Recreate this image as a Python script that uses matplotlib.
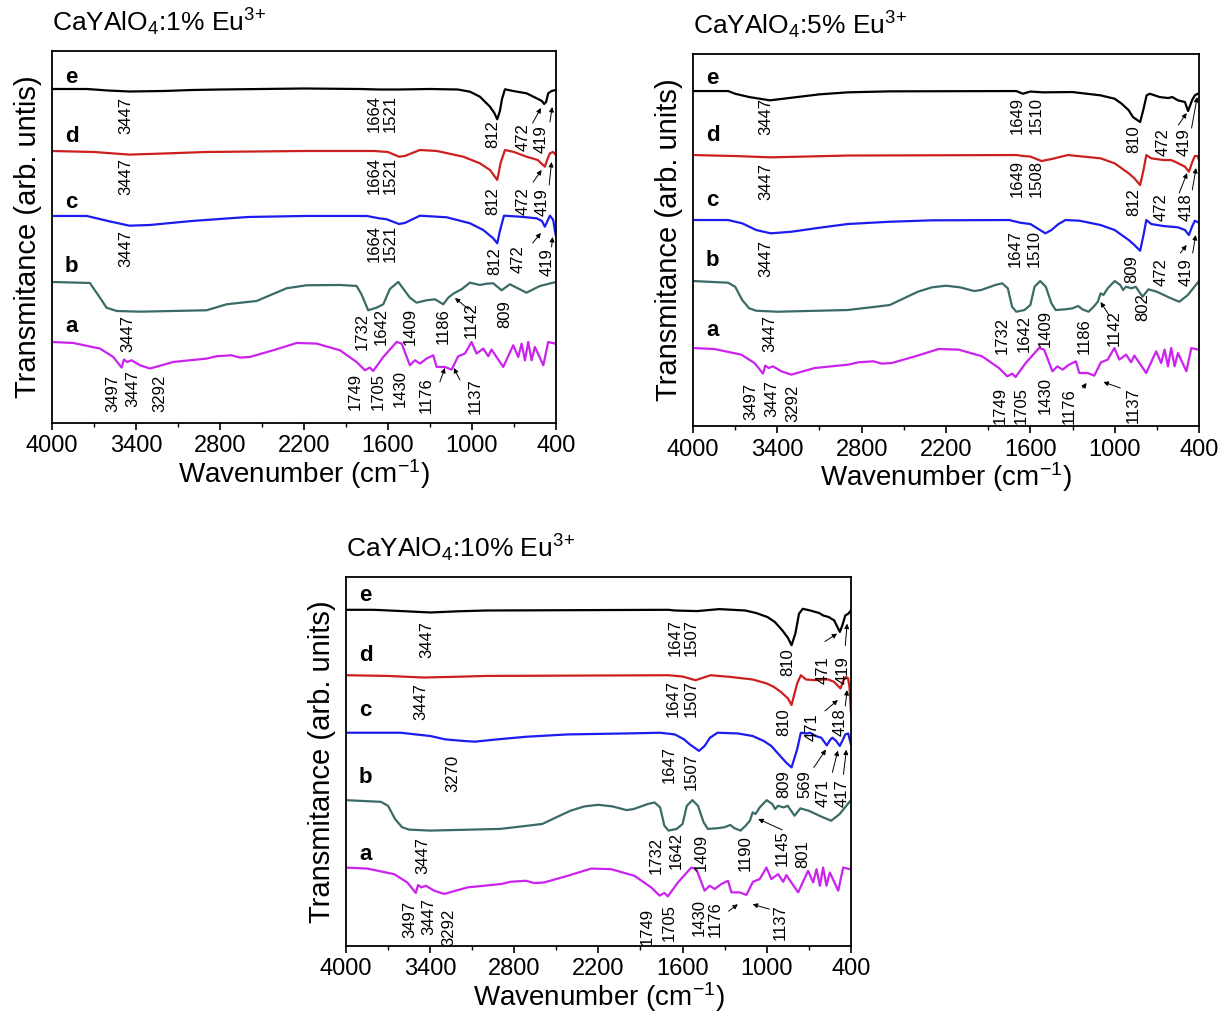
import numpy as np
import matplotlib
matplotlib.use("Agg")
import matplotlib.pyplot as plt

plt.rcParams['font.family'] = ['Liberation Sans', 'DejaVu Sans']
plt.rcParams['mathtext.fontset'] = 'custom'
plt.rcParams['mathtext.rm'] = 'Liberation Sans'
plt.rcParams['mathtext.it'] = 'Liberation Sans:italic'
plt.rcParams['mathtext.bf'] = 'Liberation Sans:bold'

# ---- data (transmittance in arb. units, relative to each trace's baseline) ----
xticks = [4000, 3400, 2800, 2200, 1600, 1000, 400]
xminor = [3700, 3100, 2500, 1900, 1300, 700]
names = ["e", "d", "c", "b", "a"]
line_colors = ["#000000", "#cc2020", "#1c1cf0", "#3b6b66", "#cc22ee"]
titles = [r"CaYAlO$_4$:1% Eu$^{3\!+}$", r"CaYAlO$_4$:5% Eu$^{3\!+}$", r"CaYAlO$_4$:10% Eu$^{3\!+}$"]
ylabels = ["Transmitance (arb. untis)", "Transmitance (arb. units)", "Transmitance (arb. units)"]

# precursor (a), same in every panel
a_wn = [4000, 3848, 3657, 3562, 3502, 3486, 3462, 3431, 3371, 3300, 3134, 2895, 2824, 2717, 2657, 2586,
        2419, 2252, 2110, 1943, 1824, 1764, 1729, 1705, 1633, 1538, 1502, 1443, 1407, 1371, 1324, 1276,
        1252, 1193, 1145, 1098, 1050, 1002, 967, 919, 883, 860, 776, 705, 669, 645, 621, 598, 574, 550,
        490, 455, 407, 400]
a_tr = [0, -1, -6.6, -15, -25.6, -17.6, -20, -18.3, -23.3, -26.6, -20, -16.6, -14.3, -13.3, -15.6, -15,
        -8.3, -1, -1.6, -8.3, -20, -28.3, -25.6, -29, -15, 0, -1.6, -23.3, -18.3, -21.6, -16.6, -13.3,
        -25, -25, -27.6, -14.3, -11.6, 0, -11.6, -6.6, -14.3, -7.6, -25, -3.3, -15, -1.6, -18.3, 0, -18.3, -5,
        -23.3, 0, -1.6, -1]

# 1 %
e1_wn = [4000, 3750, 3600, 3447, 3200, 3000, 2800, 2200, 1800, 1664, 1521, 1300, 1100, 1014, 943, 871, 840,
         819, 800, 785, 764, 705, 610, 538, 500, 484, 470, 455, 431, 400]
e1_tr = [0, 0, -1.5, -2.5, -2, -1, -0.5, 0.5, 0, -0.5, -0.5, 0, -0.5, -2.7, -7.7, -17.7, -24,
         -30.3, -22, -10, -0.3, -2, -4.3, -9.3, -12, -15, -13, -4.3, -2, -1]
d1_wn = [4000, 3700, 3447, 3200, 2900, 2200, 1700, 1600, 1521, 1480, 1371, 1250, 1062, 943, 871, 819, 795,
         764, 700, 610, 530, 479, 460, 443, 420, 400]
d1_tr = [0, -1, -3.6, -2.5, -1, 0, 0, -1, -5.7, -5, 1, 0, -5.7, -12.3, -19, -29, -12,
         1, -1, -5.7, -9, -15.7, -8, -2.3, -1, -4]
c1_wn = [4000, 3750, 3600, 3447, 3300, 3000, 2600, 2200, 1750, 1664, 1609, 1521, 1480, 1371, 1181, 1014,
         919, 848, 819, 800, 771, 657, 538, 500, 479, 460, 443, 419, 407, 400]
c1_tr = [0, 0, -5, -9.7, -9, -5, -1, 0, 0, -2.3, -3.3, -8, -7, 0.3, -1.3, -7.3,
         -14, -22.3, -27.3, -15, 0.3, -0.7, -2.3, -5, -10.7, -5, 0.3, -4, -15, -20]
b1_wn = [4000, 3729, 3657, 3610, 3538, 3371, 2895, 2752, 2538, 2324, 2181, 1943, 1824, 1790, 1741, 1681,
         1633, 1586, 1526, 1443, 1395, 1324, 1264, 1205, 1169, 1133, 1074, 1014, 943, 895, 848, 788, 729,
         610, 514, 400]
b1_tr = [0, -1, -15.7, -25.7, -29, -29.7, -28.3, -22.3, -19, -6.3, -3.3, -3, -4, -12, -28.3, -25.7,
         -22.3, -7, 0, -15.7, -20.7, -18.3, -17.3, -22.3, -15.7, -11.7, -7.3, -0.7, -3, -1.7, -1.3, -8.3, -2.3,
         -10.7, -4, 0]

# 5 %
e2_wn = [4000, 3750, 3700, 3600, 3453, 3300, 3100, 2900, 2600, 1700, 1653, 1600, 1510, 1301, 1101, 1000,
         950, 900, 870, 819, 795, 773, 750, 680, 620, 590, 550, 500, 478, 450, 430, 400]
e2_tr = [0, 0, -2.7, -6, -9.3, -6.7, -3.3, -1.3, -0.3, 0, -2.7, -0.5, -1.3, -1, -4.3, -7.7,
         -12.7, -19.3, -26, -31, -18, -4.3, -2.7, -6, -7, -6, -9.3, -11, -20, -9.3, -4.3, -2]
d2_wn = [4000, 3700, 3447, 3200, 2900, 1700, 1649, 1600, 1520, 1450, 1333, 1100, 1000, 950, 900, 860, 819,
         795, 775, 740, 653, 600, 570, 500, 472, 450, 430, 410, 400]
d2_tr = [0, -1, -2.3, -1.5, -0.5, 0, -1, -1.5, -6, -4, 0, -3.3, -8.3, -13.3, -18.3, -23.3, -30,
         -15, 0, -3.3, -5, -5, -6.7, -11.7, -16.7, -7.7, -1, -1, -5]
c2_wn = [4000, 3750, 3650, 3550, 3447, 3300, 3100, 2900, 2600, 2300, 1750, 1672, 1600, 1493, 1450, 1400,
         1350, 1250, 1100, 1000, 950, 900, 860, 819, 795, 775, 740, 653, 550, 500, 472, 450, 430, 400]
c2_tr = [0, 0, -3.3, -10, -13.3, -11.7, -7.7, -4, -1.7, -0.3, 0, -2.7, -4, -13.3, -10, -4,
         0, -0.7, -5, -10, -15, -20, -25, -30.7, -15, 0, -4, -6, -7.3, -10, -15, -6.7, -0.7, -2.7]
# gel (b) of the 5 % and 10 % samples
b23_wn = [4000, 3750, 3700, 3650, 3600, 3550, 3400, 2900, 2700, 2600, 2500, 2400, 2300, 2200, 2100, 2000,
          1950, 1850, 1800, 1760, 1730, 1700, 1642, 1600, 1570, 1530, 1490, 1450, 1420, 1350, 1300, 1260,
          1230, 1186, 1150, 1120, 1100, 1080, 1050, 1000, 960, 940, 920, 880, 850, 802, 760, 700, 600, 540,
          480, 400]
b23_tr = [0, -1.7, -5.7, -19, -27.3, -29.7, -30.7, -29, -25.7, -24, -17.3, -10.7, -6.3, -4.7, -6.3, -10,
          -9, -4, -2.3, -7.3, -25.7, -30.7, -29, -24, -5.7, 0, -5.7, -22.3, -29, -28.3, -27.3, -25,
          -28.3, -30.7, -25.7, -20.7, -12.3, -14, -7.3, 0, -4, -9, -5.7, -7.3, -5.7, -15.7, -8.3, -10.7, -17.3, -20.7,
          -14, 0]

# 10 %
e3_wn = [4000, 3800, 3600, 3398, 3200, 3000, 1700, 1655, 1496, 1338, 1153, 1074, 995, 942, 889, 850, 823,
         796, 770, 743, 690, 625, 598, 558, 519, 479, 461, 440, 419, 400]
e3_tr = [0, 0, -1.3, -2.7, -1.5, -0.7, 0, -0.7, -1.3, 0.7, -0.7, -3.3, -7.3, -12.3, -20.7, -28, -35.7,
         -24, -4, 1, -0.7, -3.3, -5.7, -7.3, -10.7, -22.3, -15.7, -5.7, -4, -0.7]
d3_wn = [4000, 3700, 3447, 3200, 3000, 1700, 1647, 1600, 1507, 1400, 1259, 1100, 1000, 950, 900, 849, 823,
         783, 757, 720, 651, 600, 560, 520, 474, 453, 436, 420, 410, 400]
d3_tr = [0, -0.7, -2.3, -1.5, -0.7, 0, -0.7, -1.3, -5, 0, -1.7, -4.3, -8.3, -11.7, -16.7, -23.3, -30,
         -8.3, 0, -4.3, -5, -4.3, -4.3, -6.7, -13.3, -5, -1.7, -3, -12, -36.7]
c3_wn = [4000, 3609, 3503, 3398, 3292, 3160, 3081, 2922, 2711, 2420, 2000, 1760, 1655, 1589, 1549, 1483,
         1443, 1404, 1351, 1206, 1100, 1021, 968, 915, 862, 823, 783, 757, 717, 691, 651, 611, 572, 545,
         532, 505, 479, 461, 440, 419, 400]
c3_tr = [0, 0, -1.7, -3.3, -6.7, -8.3, -9, -6.7, -4, -1.7, -0.7, 0, -1.7, -6.7, -11.7, -18.3,
         -13.3, -5, 0, -0.7, -3.3, -8.3, -13.3, -21.7, -30, -35, -16.7, 0, -0.7, 0, -3.3, -5, -12.7, -6.7,
         -5, -8.3, -13.3, -8.3, -1.7, -0.7, -11.7]

# band labels: (text, wavenumber, top of label)
labels1 = [("3447", 3473, 326), ("1664", 1699, 328), ("1521", 1580, 328), ("812", 852, 303), ("472", 634, 300), ("419", 507, 298),
           ("3447", 3473, 265), ("1664", 1699, 266), ("1521", 1580, 266), ("812", 852, 236), ("472", 634, 236), ("419", 502, 235),
           ("3447", 3473, 193), ("1664", 1699, 198), ("1521", 1580, 198), ("812", 836, 176), ("472", 669, 178), ("419", 466, 175),
           ("3447", 3455, 108), ("1732", 1781, 110), ("1642", 1645, 115), ("1409", 1443, 115), ("1186", 1205, 115), ("1142", 1002, 121), ("809", 764, 123),
           ("3497", 3567, 48), ("3447", 3419, 53), ("3292", 3229, 48), ("1749", 1836, 50), ("1705", 1669, 50), ("1430", 1514, 53), ("1176", 1324, 46), ("1137", 979, 45)]
labels2 = [("3447", 3480, 328), ("1649", 1693, 329), ("1510", 1560, 329), ("810", 867, 301), ("472", 653, 298), ("419", 507, 298),
           ("3447", 3480, 263), ("1649", 1693, 266), ("1508", 1560, 266), ("812", 867, 238), ("472", 667, 233), ("418", 493, 233),
           ("3447", 3480, 186), ("1647", 1707, 196), ("1510", 1573, 196), ("809", 880, 171), ("472", 667, 168), ("419", 493, 168),
           ("3447", 3453, 111), ("1732", 1800, 109), ("1642", 1640, 111), ("1409", 1493, 116), ("1186", 1213, 108), ("1142", 1000, 116), ("802", 800, 133),
           ("3497", 3587, 43), ("3447", 3440, 46), ("3292", 3293, 41), ("1749", 1813, 39), ("1705", 1667, 39), ("1430", 1493, 49), ("1176", 1320, 38), ("1137", 867, 39)]
labels3 = [("3447", 3424, 328), ("1647", 1655, 330), ("1507", 1536, 330), ("810", 849, 300), ("471", 598, 292), ("419", 453, 292),
           ("3447", 3464, 265), ("1647", 1668, 268), ("1507", 1536, 268), ("810", 876, 240), ("471", 678, 235), ("418", 480, 240),
           ("3270", 3239, 193), ("1647", 1694, 202), ("1507", 1536, 195), ("809", 876, 177), ("569", 730, 177), ("471", 598, 168), ("417", 466, 168),
           ("3447", 3451, 110), ("1732", 1787, 110), ("1642", 1642, 115), ("1409", 1470, 113), ("1190", 1153, 112), ("1145", 889, 117), ("801", 744, 107),
           ("3497", 3543, 45), ("3447", 3411, 48), ("3292", 3266, 38), ("1749", 1853, 38), ("1705", 1694, 42), ("1430", 1483, 47), ("1176", 1364, 45), ("1137", 902, 42)]

# arrows: (tail, head)
arrows1 = [((566, 300), (507, 315)), ((443, 301), (426, 316)),
           ((562, 241), (502, 253)), ((448, 238), (431, 261)),
           ((566, 180), (507, 190)), ((431, 176), (424, 186)),
           ((1026, 114), (1121, 125)),
           ((1229, 41), (1193, 55)), ((1086, 43), (1129, 55))]
arrows2 = [((547, 301), (488, 313)), ((453, 298), (413, 329)),
           ((541, 233), (485, 253)), ((448, 236), (421, 258)),
           ((533, 173), (488, 181)), ((445, 173), (424, 191)),
           ((1040, 111), (1101, 124)),
           ((1227, 38), (1200, 43)), ((960, 38), (1080, 44))]
arrows3 = [((585, 307), (498, 315)), ((440, 303), (427, 325)),
           ((585, 237), (493, 248)), ((440, 242), (427, 258)),
           ((664, 180), (578, 198)), ((532, 175), (493, 197)), ((453, 173), (432, 198)),
           ((889, 117), (1061, 128)),
           ((1272, 35), (1206, 42)), ((981, 37), (1100, 42))]

curves1 = [(e1_wn, e1_tr), (d1_wn, d1_tr), (c1_wn, c1_tr), (b1_wn, b1_tr), (a_wn, a_tr)]
curves2 = [(e2_wn, e2_tr), (d2_wn, d2_tr), (c2_wn, c2_tr), (b23_wn, b23_tr), (a_wn, a_tr)]
curves3 = [(e3_wn, e3_tr), (d3_wn, d3_tr), (c3_wn, c3_tr), (b23_wn, b23_tr), (a_wn, a_tr)]

# stacking offsets and letter heights
offsets1 = [334, 272, 207, 141, 81]
offsets2 = [335, 271, 206, 145, 78]
offsets3 = [339, 273, 215, 147, 79]
letters1 = [346, 286, 220, 156, 96]
letters2 = [348, 291, 226, 166, 96]
letters3 = [353, 293, 237, 170, 92]


def draw_panel(ax, curves, offsets, letters, labels, arrows, title, ylab):
    for (wn, tr), off, col in zip(curves, offsets, line_colors):
        ax.plot(wn, np.array(tr) + off, color=col, lw=1.6)
    for nm, ly in zip(names, letters):
        ax.text(3860, ly, nm, fontsize=16, fontweight='bold', ha='center', va='center')
    for txt, x, y in labels:
        ax.text(x, y, txt, rotation=90, fontsize=12, ha='center', va='top')
    for tail, head in arrows:
        ax.annotate('', xy=head, xytext=tail,
                    arrowprops=dict(arrowstyle='-|>', color='black', lw=0.7,
                                    mutation_scale=7, shrinkA=0, shrinkB=0))
    ax.set_xlim(4000, 400)
    ax.set_ylim(0, 372)
    ax.set_yticks([])
    ax.set_xticks(xticks)
    ax.set_xticks(xminor, minor=True)
    ax.set_xticklabels([str(t) for t in xticks])
    ax.tick_params(axis='x', which='major', direction='out', length=5, width=1.2, labelsize=17, pad=4)
    ax.tick_params(axis='x', which='minor', direction='out', length=3, width=1.0)
    for sp in ax.spines.values():
        sp.set_linewidth(1.3)
    ax.set_xlabel("Wavenumber (cm$^{-1}$)", fontsize=20, labelpad=0)
    ax.set_ylabel(ylab, fontsize=21, labelpad=7)
    ax.text(0, 1 + 20 / 372, title, transform=ax.transAxes, fontsize=19, ha='left', va='baseline')


fig = plt.figure(figsize=(12.25, 10.16), dpi=100)
ax1 = fig.add_axes([0.0424, 0.5837, 0.4114, 0.3661])
ax2 = fig.add_axes([0.5657, 0.5807, 0.4131, 0.3661])
ax3 = fig.add_axes([0.2824, 0.0690, 0.4122, 0.3630])

draw_panel(ax1, curves1, offsets1, letters1, labels1, arrows1, titles[0], ylabels[0])
draw_panel(ax2, curves2, offsets2, letters2, labels2, arrows2, titles[1], ylabels[1])
draw_panel(ax3, curves3, offsets3, letters3, labels3, arrows3, titles[2], ylabels[2])

fig.savefig("out.png", dpi=100)
plt.close()
